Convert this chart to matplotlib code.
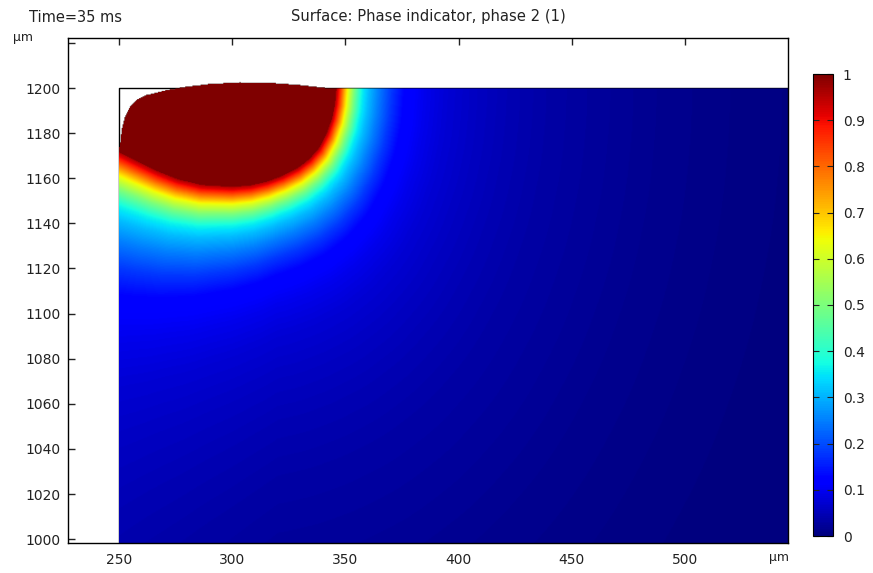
import numpy as np
import matplotlib.pyplot as plt
from matplotlib.path import Path

# domain of the liquid, in µm
x_left, x_right = 250.0, 545.5
y_bottom, y_top = 998.3, 1200.0

# free surface on top of the liquid (bump near the left corner, flat after)
surf_x = [250.0, 250.4, 251.2, 252.7, 254.9, 257.8, 262.2, 271.1, 279.9,
          290.2, 303.4, 315.2, 330.0, 341.7, 545.5]
surf_y = [1174.0, 1174.0, 1181.4, 1187.3, 1191.7, 1194.7, 1196.9, 1199.1,
          1200.6, 1201.8, 1202.5, 1202.4, 1201.3, 1200.0, 1200.0]

# edge of the phase 2 blob (where the indicator drops below ~0.95)
blob_x = [238.0, 250.2, 258.0, 267.4, 276.0, 286.5, 299.9, 308.0, 315.3,
          322.0, 328.7, 334.0, 338.2, 341.5, 344.0, 345.3, 345.9, 346.2]
blob_y = [1173.0, 1171.5, 1167.5, 1162.9, 1159.5, 1157.0, 1156.2, 1156.8,
          1158.5, 1161.0, 1164.4, 1168.5, 1173.3, 1179.5, 1186.6, 1193.0,
          1199.6, 1215.0]

# indicator value vs distance from the blob edge (µm)
prof_d = [0, 2, 4.5, 7, 11, 15.5, 20, 26, 34, 42, 55, 68, 85, 105, 130, 156,
          200, 260, 330]
prof_phi = [0.96, 0.88, 0.76, 0.64, 0.50, 0.37, 0.31, 0.25, 0.18, 0.125,
            0.095, 0.075, 0.06, 0.047, 0.035, 0.027, 0.015, 0.005, 0.0]
x_stretch = 1.4  # tail falls off faster sideways than downwards
# the transition is wider next to the left wall
wall_x = [250.0, 320.0]
wall_scale = [0.7, 1.0]

cbar_ticks = [0, 0.1, 0.2, 0.3, 0.4, 0.5, 0.6, 0.7, 0.8, 0.9, 1]
cbar_labels = ['0', '0.1', '0.2', '0.3', '0.4', '0.5', '0.6', '0.7', '0.8', '0.9', '1']
x_ticks = [250, 300, 350, 400, 450, 500]
y_ticks = [1000, 1020, 1040, 1060, 1080, 1100, 1120, 1140, 1160, 1180, 1200, 1220]
y_labels = ['1000', '1020', '1040', '1060', '1080', '1100', '1120', '1140',
            '1160', '1180', '1200', '']

# build the field
step = 0.4
y_max = max(surf_y)
xs = np.arange(x_left, x_right, step) + step / 2
ys = np.arange(y_bottom, y_max + step, step) + step / 2
X, Y = np.meshgrid(xs, ys)

bx = np.array(blob_x)
by = np.array(blob_y)
px = X * x_stretch
dist = np.full(X.shape, np.inf)
for i in range(len(bx) - 1):
    ax0, ay0 = bx[i] * x_stretch, by[i]
    vx, vy = bx[i + 1] * x_stretch - ax0, by[i + 1] - ay0
    t = ((px - ax0) * vx + (Y - ay0) * vy) / (vx * vx + vy * vy)
    t = np.clip(t, 0, 1)
    d = np.hypot(px - (ax0 + t * vx), Y - (ay0 + t * vy))
    dist = np.minimum(dist, d)
dist = dist * np.interp(X, wall_x, wall_scale)

poly = list(zip(blob_x, blob_y)) + [(blob_x[-1], 1215.0), (blob_x[0], 1215.0)]
inside = Path(poly).contains_points(np.c_[X.ravel(), Y.ravel()]).reshape(X.shape)

phi = np.interp(dist, prof_d, prof_phi)
phi[inside] = 1.0
outside = Y > np.interp(X, surf_x, surf_y)
phi = np.ma.masked_where(outside, phi)

fig = plt.figure(figsize=(8.73, 5.73), dpi=100)
ax = fig.add_axes([0.0779, 0.0524, 0.8247, 0.8813])

# domain outline, under the field
ax.plot([x_left, x_left, x_right], [y_bottom, y_top, y_top], color='black',
        lw=1.0, zorder=1)

im = ax.imshow(phi, origin='lower', cmap='jet', vmin=0, vmax=1,
               extent=[x_left, x_left + step * len(xs), y_bottom, y_bottom + step * len(ys)],
               aspect='auto', interpolation='bilinear', zorder=2)

ax.set_xlim(227.5, 545.5)
ax.set_ylim(998.3, 1222.2)
ax.set_xticks(x_ticks)
ax.set_yticks(y_ticks)
ax.set_yticklabels(y_labels)
ax.tick_params(direction='in', length=5, width=1, labelsize=10,
               colors='#222222', top=True, bottom=False, right=False)
ax.tick_params(axis='x', pad=7, labelbottom=True)
ax.tick_params(axis='y', pad=5)
for s in ax.spines.values():
    s.set_linewidth(1.0)

fig.text(29 / 873, 1 - 17 / 573, 'Time=35 ms', fontsize=10.5, color='#222222',
         ha='left', va='center')
fig.text(428 / 873, 1 - 17 / 573, 'Surface: Phase indicator, phase 2 (1)',
         fontsize=10.6, color='#222222', ha='center', va='center')
fig.text(13 / 873, 1 - 38 / 573, 'µm', fontsize=9, color='#222222',
         ha='left', va='center')
fig.text(779 / 873, 1 - 558 / 573, 'µm', fontsize=9, color='#222222',
         ha='center', va='center')

cax = fig.add_axes([813 / 873, 37 / 573, 20 / 873, 462 / 573])
cb = fig.colorbar(im, cax=cax, ticks=cbar_ticks)
cb.set_ticklabels(cbar_labels)
cb.ax.tick_params(direction='in', left=True, right=True, length=4, width=0.8,
                  labelsize=10, pad=7, colors='#222222')
cb.outline.set_linewidth(0.8)

fig.savefig('out.png', dpi=100)
